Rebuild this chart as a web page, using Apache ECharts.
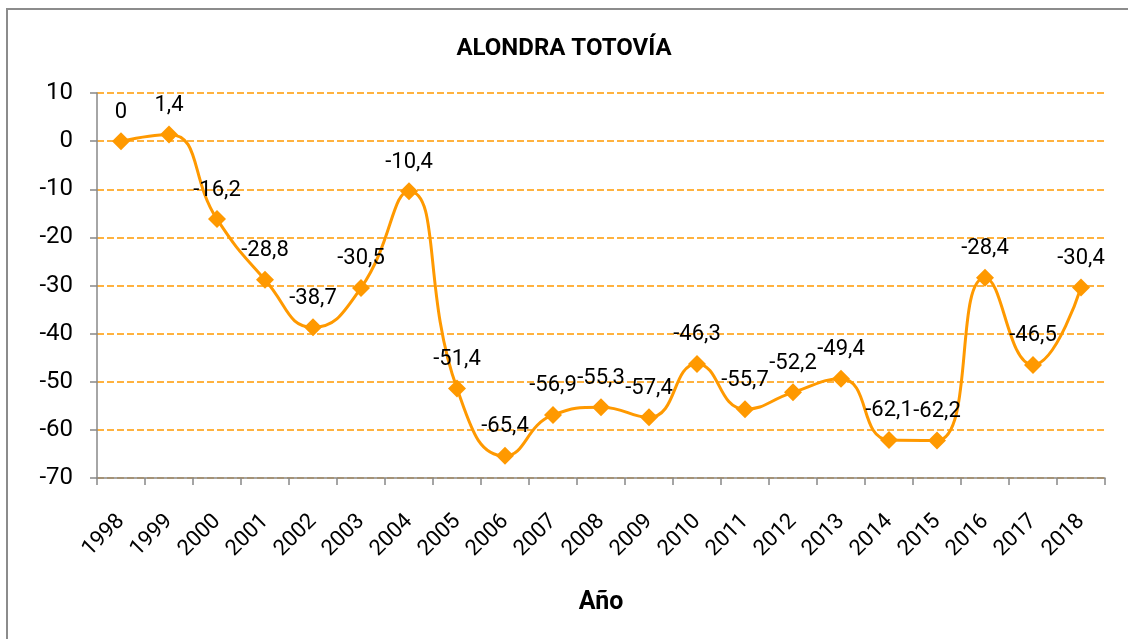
<!DOCTYPE html>
<html>
<head>
<meta charset="utf-8">
<script src="https://cdn.jsdelivr.net/npm/echarts@6/dist/echarts.min.js"></script>
<style>html,body{margin:0;padding:0;background:#fff}#c{width:1128px;height:639px}</style>
</head>
<body>
<div id="c"></div>
<script>
const categories = ['1998','1999','2000','2001','2002','2003','2004','2005','2006','2007','2008','2009','2010','2011','2012','2013','2014','2015','2016','2017','2018'];
const values = [0, 1.4, -16.2, -28.8, -38.7, -30.5, -10.4, -51.4, -65.4, -56.9, -55.3, -57.4, -46.3, -55.7, -52.2, -49.4, -62.1, -62.2, -28.4, -46.5, -30.4];
const titleText = 'ALONDRA TOTOVÍA';
const xName = 'Año';
const yMin = -70, yMax = 10, yStep = 10;

const FONT = 'Roboto';
const chart = echarts.init(document.getElementById('c'), null, {renderer: 'canvas'});
chart.setOption({
  animation: false,
  backgroundColor: '#fff',
  graphic: [{
    type: 'rect', silent: true, z: -1,
    shape: {x: 7, y: 9, width: 1300, height: 800},
    style: {fill: 'none', stroke: '#8c8c8c', lineWidth: 2}
  }],
  title: {
    text: titleText, left: 'center', top: 32,
    textStyle: {fontFamily: FONT, fontSize: 24, fontWeight: 'bold', color: '#000'}
  },
  grid: {left: 97, right: 23, top: 93, bottom: 161, containLabel: false},
  xAxis: {
    type: 'category', data: categories, boundaryGap: true,
    name: xName, nameLocation: 'middle', nameGap: 112,
    nameTextStyle: {fontFamily: FONT, fontSize: 25, fontWeight: 'bold', color: '#000'},
    axisLine: {onZero: false, lineStyle: {color: '#888', width: 1.5}},
    axisTick: {show: true, length: 7, lineStyle: {color: '#888', width: 1.5}},
    axisLabel: {rotate: 45, margin: 40, fontFamily: FONT, fontSize: 22, color: '#000'},
    splitLine: {show: false}
  },
  yAxis: {
    type: 'value', min: yMin, max: yMax, interval: yStep,
    axisLine: {show: true, lineStyle: {color: '#888', width: 1.5}},
    axisTick: {show: true, length: 7, lineStyle: {color: '#888', width: 1.5}},
    axisLabel: {margin: 24, fontFamily: FONT, fontSize: 24, color: '#000'},
    splitLine: {show: true, lineStyle: {color: '#FF9900', width: 1.5, type: [7, 3]}}
  },
  series: [{
    type: 'line', data: values, smooth: 0.5,
    symbol: 'diamond', symbolSize: 18,
    lineStyle: {color: '#FF9900', width: 3},
    itemStyle: {color: '#FF9900'},
    label: {
      show: true, position: 'top', distance: 9,
      fontFamily: FONT, fontSize: 22, color: '#000',
      formatter: p => String(p.value).replace('.', ',')
    }
  }]
});
</script>
</body>
</html>
